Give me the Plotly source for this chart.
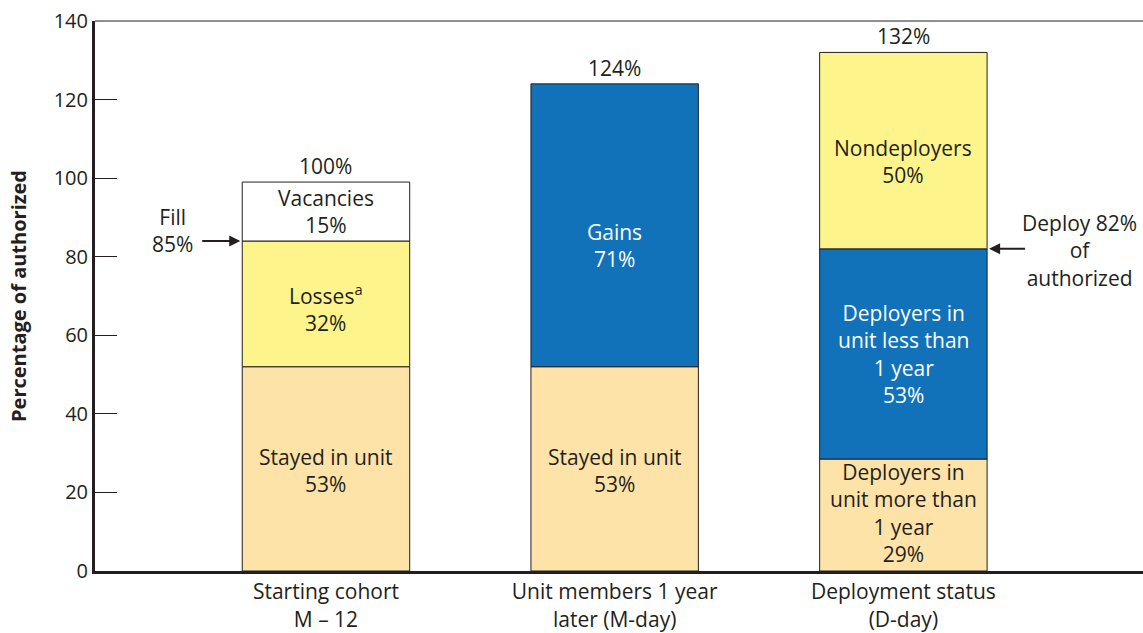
import plotly.graph_objects as go

categories = ["Starting cohort<br>M – 12", "Unit members 1 year<br>later (M-day)", "Deployment status<br>(D-day)"]

# segments stacked bottom to top: (bar index, value, label, colour key)
seg_bar = [0, 0, 0, 1, 1, 2, 2, 2]
seg_val = [52, 32, 15, 52, 72, 28.5, 53.5, 50]
seg_text = ["Stayed in unit<br>53%", "Losses<sup>a</sup><br>32%", "Vacancies<br>15%",
            "Stayed in unit<br>53%", "Gains<br>71%",
            "Deployers in<br>unit more than<br>1 year<br>29%",
            "Deployers in<br>unit less than<br>1 year<br>53%",
            "Nondeployers<br>50%"]
seg_kind = ["stay", "loss", "vac", "stay", "gain", "stay", "gain", "loss"]
seg_shift = [-2, -4, 0, -2, -20, 2, 0, -11]
totals = ["100%", "124%", "132%"]

colours = {"stay": "#FDE3A7", "loss": "#FEF48C", "vac": "#FFFFFF", "gain": "#1172BA"}
ink = "#231F20"
font = "Open Sans"
fs = 21

fig = go.Figure()
base = [0, 0, 0]
annos = []
for b, v, t, k, s in zip(seg_bar, seg_val, seg_text, seg_kind, seg_shift):
    fig.add_trace(go.Bar(
        x=[b], y=[v], base=[base[b]], width=0.58,
        marker=dict(color=colours[k], line=dict(color=ink, width=1)),
        showlegend=False, hoverinfo="skip"
    ))
    annos.append(dict(x=b, y=base[b] + v / 2, text=t, showarrow=False, yshift=s,
                      font=dict(size=fs, color="white" if k == "gain" else ink)))
    base[b] += v

for i, t in enumerate(totals):
    annos.append(dict(x=i, y=base[i], text=t, showarrow=False, yanchor="bottom", yshift=0,
                      font=dict(size=fs, color=ink)))

# fill arrow on the first bar (top of losses), deploy arrow on the third bar (top of deployers)
fill_level = seg_val[0] + seg_val[1]
deploy_level = seg_val[5] + seg_val[6]
annos += [
    dict(x=-0.29, y=fill_level, xshift=-2, text=" ", showarrow=True, ax=-42, ay=0,
         arrowhead=2, arrowsize=1.1, arrowwidth=2, arrowcolor=ink),
    dict(x=-0.29, y=fill_level, xshift=-70, yshift=11, text="Fill<br>85%", showarrow=False,
         font=dict(size=fs, color=ink)),
    dict(x=2.29, y=deploy_level, xshift=2, text=" ", showarrow=True, ax=40, ay=0,
         arrowhead=2, arrowsize=1.1, arrowwidth=2, arrowcolor=ink),
    dict(x=2.29, y=deploy_level, xshift=92, yshift=-2, text="Deploy 82%<br>of<br>authorized",
         showarrow=False, font=dict(size=fs, color=ink)),
]

fig.update_layout(
    width=1143, height=633,
    margin=dict(l=95, r=0, t=21, b=62),
    paper_bgcolor="white", plot_bgcolor="white",
    barmode="overlay",
    font=dict(family=font, color=ink, size=fs),
    annotations=annos,
    shapes=[dict(type="line", xref="paper", yref="paper", x0=0, x1=1, y0=1, y1=1,
                 line=dict(color=ink, width=1))],
    xaxis=dict(range=[-0.8, 2.83], tickvals=[0, 1, 2], ticktext=categories,
               showline=True, linecolor=ink, linewidth=3, ticks="", showgrid=False,
               zeroline=False, tickfont=dict(size=fs), automargin=False),
    yaxis=dict(range=[0, 140], dtick=20, showline=True, linecolor=ink, linewidth=3,
               ticks="inside", ticklen=22, tickwidth=1, tickcolor=ink, showgrid=False,
               zeroline=False, tickfont=dict(size=20), automargin=False,
               title=dict(text="<b>Percentage of authorized</b>", font=dict(size=20), standoff=22)),
)

# drop the page's default body margin so the figure sits at the window's corner
fig.write_html("out.html", config={"displayModeBar": False},
               post_script="document.body.style.margin='0';")
